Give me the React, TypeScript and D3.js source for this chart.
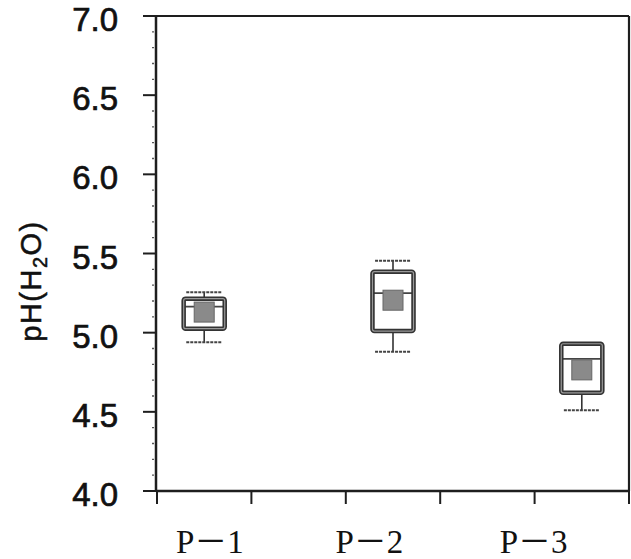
import React from "react";
import * as d3 from "d3";

const categories = ["P－1", "P－2", "P－3"];
const categoryPos = [0.5, 2.5, 4.5];
const labelPos = [0.56, 2.25, 3.99];
const whiskerLow = [4.94, 4.88, 4.51];
const q1 = [5.025, 5.01, 4.62];
const median = [5.165, 5.25, 4.835];
const q3 = [5.215, 5.385, 4.93];
const whiskerHigh = [5.255, 5.455, 4.93];
const mean = [5.13, 5.205, 4.765];
const yTickLabels = ["4.0", "4.5", "5.0", "5.5", "6.0", "6.5", "7.0"];
const xTickValues = [0, 1, 2, 3, 4, 5];

const W = 631;
const H = 559;
const left = 157;
const right = 629;
const top = 16;
const bottom = 491;

export default function App() {
  const x = d3.scaleLinear().domain([0, 5]).range([left, right]);
  const y = d3.scaleLinear().domain([4, 7]).range([bottom, top]);
  const majors = yTickLabels.map((t) => +t);
  const minors = y.ticks(30).filter((v) => !majors.some((m) => Math.abs(m - v) < 1e-6));
  const boxW = 0.435;
  const capW = 0.38;
  const sq = 20;
  const ink = "#1e1e1e";

  const rows = categories.map((c, i) => ({
    c,
    pos: categoryPos[i],
    lo: whiskerLow[i],
    q1: q1[i],
    med: median[i],
    q3: q3[i],
    hi: whiskerHigh[i],
    mean: mean[i],
  }));

  return (
    <svg
      width={W}
      height={H}
      style={{ position: "absolute", left: 0, top: 0, background: "#fff" }}
    >
      <rect x={0} y={0} width={W} height={H} fill="#fff" />
      {/* frame */}
      <line x1={left} x2={right} y1={top} y2={top} stroke={ink} strokeWidth={2.2} />
      <line x1={right} x2={right} y1={top} y2={bottom} stroke={ink} strokeWidth={2.2} />
      <line x1={left - 1} x2={left - 1} y1={top - 1} y2={bottom} stroke={ink} strokeWidth={2.5} />
      <line x1={left - 1} x2={right} y1={bottom} y2={bottom} stroke={ink} strokeWidth={2.5} />

      {/* y ticks */}
      {majors.map((v, i) => (
        <g key={"yt" + i}>
          <line x1={left - 14} x2={left} y1={y(v)} y2={y(v)} stroke={ink} strokeWidth={2} />
          <text
            x={118}
            y={y(v) + 15}
            textAnchor="end"
            fontFamily="'Liberation Sans', Arial, sans-serif"
            fontSize={33}
            fill="#111"
            stroke="#111"
            strokeWidth={0.7}
          >
            {yTickLabels[i]}
          </text>
        </g>
      ))}
      {minors.map((v, i) => (
        <line key={"ym" + i} x1={left - 5} x2={left - 3} y1={y(v)} y2={y(v)} stroke="#555" strokeWidth={1.3} />
      ))}

      {/* x ticks */}
      {xTickValues.map((v) => (
        <line key={"xt" + v} x1={x(v)} x2={x(v)} y1={bottom} y2={bottom + 13} stroke={ink} strokeWidth={2} />
      ))}

      {/* x labels */}
      {categories.map((c, i) => (
        <text
          key={"xl" + i}
          x={x(labelPos[i])}
          y={553}
          textAnchor="middle"
          fontFamily="'Liberation Serif', 'Noto Sans CJK JP', serif"
          fontSize={33}
          fill="#111"
        >
          {c}
        </text>
      ))}

      {/* y title */}
      <text
        transform={`translate(41, 281) rotate(-90)`}
        textAnchor="middle"
        fontFamily="'Liberation Sans', Arial, sans-serif"
        fontSize={29}
        letterSpacing={1.5}
        fill="#111"
        stroke="#111"
        strokeWidth={0.5}
      >
        pH(H
        <tspan fontSize={20} dy={6}>2</tspan>
        <tspan dy={-6}>O)</tspan>
      </text>

      {/* boxes */}
      {rows.map((r, i) => {
        const cx = x(r.pos);
        const bx0 = x(r.pos - boxW / 2);
        const bx1 = x(r.pos + boxW / 2);
        const cx0 = x(r.pos - capW / 2);
        const cx1 = x(r.pos + capW / 2);
        return (
          <g key={"b" + i}>
            {r.hi > r.q3 && (
              <>
                <line x1={cx} x2={cx} y1={y(r.hi)} y2={y(r.q3)} stroke="#333" strokeWidth={1.6} />
                <line x1={cx0} x2={cx1} y1={y(r.hi)} y2={y(r.hi)} stroke="#444" strokeWidth={2} strokeDasharray="3 1" />
              </>
            )}
            <line x1={cx} x2={cx} y1={y(r.q1)} y2={y(r.lo)} stroke="#333" strokeWidth={1.6} />
            <line x1={cx0} x2={cx1} y1={y(r.lo)} y2={y(r.lo)} stroke="#444" strokeWidth={2} strokeDasharray="3 1" />
            <line x1={bx0} x2={bx1} y1={y(r.med)} y2={y(r.med)} stroke="#444" strokeWidth={1.8} />
            <rect
              x={bx0}
              y={y(r.q3)}
              width={bx1 - bx0}
              height={y(r.q1) - y(r.q3)}
              rx={2}
              fill="none"
              stroke="#333"
              strokeWidth={4.5}
            />
            <rect
              x={bx0}
              y={y(r.q3)}
              width={bx1 - bx0}
              height={y(r.q1) - y(r.q3)}
              rx={2}
              fill="none"
              stroke="#999"
              strokeWidth={1.2}
            />
            <rect
              x={cx - sq / 2}
              y={y(r.mean) - sq / 2}
              width={sq}
              height={sq}
              fill="#8a8a8a"
              stroke="#666"
              strokeWidth={1}
            />
          </g>
        );
      })}
    </svg>
  );
}
